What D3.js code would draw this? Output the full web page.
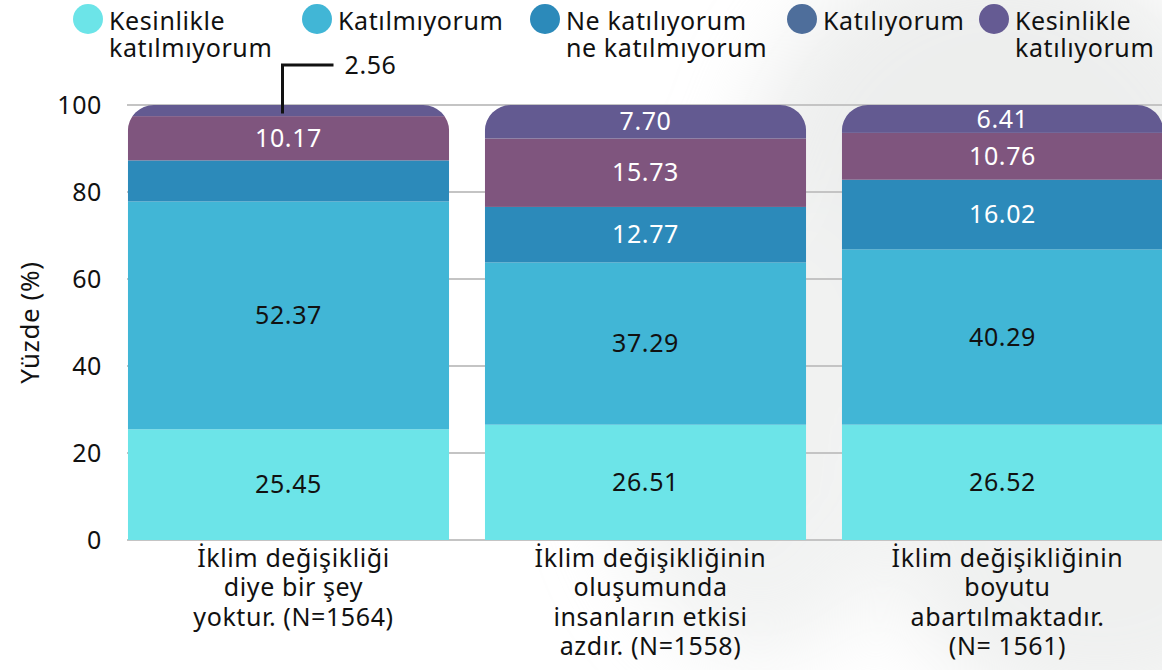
<!DOCTYPE html>
<html>
<head>
<meta charset="utf-8">
<script src="https://cdn.jsdelivr.net/npm/d3@7"></script>
<style>
  body { margin: 0; background: #fff; }
  svg text { font-family: "Noto Sans", sans-serif; letter-spacing: 0.6px; }
</style>
</head>
<body>
<div id="chart"></div>
<script>
"use strict";

/* Data */
let categories = ["q1", "q2", "q3"];
let categoryLines = [
  ["İklim değişikliği", "diye bir şey", "yoktur. (N=1564)"],
  ["İklim değişikliğinin", "oluşumunda", "insanların etkisi", "azdır. (N=1558)"],
  ["İklim değişikliğinin", "boyutu", "abartılmaktadır.", "(N= 1561)"]
];
let seriesNames = ["Kesinlikle katılmıyorum", "Katılmıyorum", "Ne katılıyorum ne katılmıyorum", "Katılıyorum", "Kesinlikle katılıyorum"];
let kesinlikleKatilmiyorum = [25.45, 26.51, 26.52];
let katilmiyorum = [52.37, 37.29, 40.29];
let neKatiliyorum = [9.45, 12.77, 16.02];
let katiliyorum = [10.17, 15.73, 10.76];
let kesinlikleKatiliyorum = [2.56, 7.70, 6.41];
let yTicks = [0, 20, 40, 60, 80, 100];

let seriesValues = [kesinlikleKatilmiyorum, katilmiyorum, neKatiliyorum, katiliyorum, kesinlikleKatiliyorum];

/* Colours: bar segments and legend dots (legend differs slightly in the original) */
let barColors = ["#6ce4e8", "#41b6d6", "#2c8aba", "#7f557e", "#635a91"];
let legendColors = ["#6ce4e8", "#41b6d6", "#2c8aba", "#4e6e9b", "#655b93"];
let labelColors = ["#111", "#111", "#fff", "#fff", "#fff"];

/* Drawing config */
let svgWidth = 1162;
let svgHeight = 670;
let fontSize = 25;

let svg = d3.select("#chart")
  .append("svg")
  .attr("width", svgWidth)
  .attr("height", svgHeight);

/* soft grey texture on the right like the original background */
let defs = svg.append("defs");
let blur = defs.append("filter").attr("id", "blur").attr("x", "-50%").attr("y", "-50%").attr("width", "200%").attr("height", "200%");
blur.append("feGaussianBlur").attr("stdDeviation", 40);
let bg = svg.append("g").attr("filter", "url(#blur)").attr("opacity", 0.5);
bg.append("ellipse").attr("cx", 1000).attr("cy", 200).attr("rx", 260).attr("ry", 260).attr("fill", "#dcdedd");
bg.append("ellipse").attr("cx", 760).attr("cy", 420).attr("rx", 160).attr("ry", 240).attr("fill", "#e4e6e5");
bg.append("ellipse").attr("cx", 1100).attr("cy", 560).attr("rx", 200).attr("ry", 160).attr("fill", "#e0e2e1");

/* Scales */
let xScale = d3.scaleBand()
  .domain(categories)
  .range([110, 1181])
  .paddingInner(0.1)
  .paddingOuter(0.05);

let yScale = d3.scaleLinear()
  .domain([0, 100])
  .range([540, 105]);

/* Gridlines */
svg.append("g")
  .selectAll("line")
  .data(yTicks)
  .enter()
  .append("line")
  .attr("x1", 127)
  .attr("x2", svgWidth)
  .attr("y1", d => yScale(d))
  .attr("y2", d => yScale(d))
  .attr("stroke", "#c4c4c4")
  .attr("stroke-width", 2);

/* Y tick labels */
svg.append("g")
  .selectAll("text")
  .data(yTicks)
  .enter()
  .append("text")
  .attr("x", 102)
  .attr("y", d => yScale(d))
  .attr("dy", "0.35em")
  .attr("text-anchor", "end")
  .attr("font-size", fontSize)
  .attr("fill", "#111")
  .text(d => String(d));

/* Y axis title */
svg.append("text")
  .attr("transform", "translate(39," + yScale(50) + ") rotate(-90)")
  .attr("text-anchor", "middle")
  .attr("font-size", 26)
  .attr("letter-spacing", "1.5px")
  .attr("fill", "#111")
  .text("Yüzde (%)");

/* Stack */
let table = categories.map(function (c, i) {
  let row = { cat: c };
  seriesNames.forEach(function (s, j) { row[s] = seriesValues[j][i]; });
  return row;
});
let stacked = d3.stack().keys(seriesNames)(table);

/* clip each bar with rounded top corners */
let radius = 26;
categories.forEach(function (c, i) {
  let x0 = xScale(c);
  let w = xScale.bandwidth();
  let top = yScale(100);
  let bottom = yScale(0);
  let p = d3.path();
  p.moveTo(x0, bottom);
  p.lineTo(x0, top + radius);
  p.arcTo(x0, top, x0 + radius, top, radius);
  p.lineTo(x0 + w - radius, top);
  p.arcTo(x0 + w, top, x0 + w, top + radius, radius);
  p.lineTo(x0 + w, bottom);
  p.closePath();
  defs.append("clipPath").attr("id", "clip" + i).append("path").attr("d", p.toString());
});

let layers = svg.append("g")
  .selectAll("g")
  .data(stacked)
  .enter()
  .append("g")
  .attr("fill", (d, j) => barColors[j]);

layers.selectAll("rect")
  .data(d => d)
  .enter()
  .append("rect")
  .attr("clip-path", (d, i) => "url(#clip" + i + ")")
  .attr("x", d => xScale(d.data.cat))
  .attr("width", xScale.bandwidth())
  .attr("y", d => yScale(d[1]))
  .attr("height", d => yScale(d[0]) - yScale(d[1]));

/* Segment labels: bar 1's middle segment has none, its top one is a callout */
let labels = svg.append("g");
stacked.forEach(function (layer, j) {
  layer.forEach(function (d, i) {
    if (i === 0 && j === 2) return;
    let cx = xScale(d.data.cat) + xScale.bandwidth() / 2;
    if (i === 0 && j === 4) {
      let yTop = yScale(d[1]) - 40;
      labels.append("path")
        .attr("d", "M" + (cx - 6) + "," + (yScale((d[0] + d[1]) / 2) + 3) +
          "V" + yTop + "H" + (cx + 45))
        .attr("fill", "none")
        .attr("stroke", "#111")
        .attr("stroke-width", 3);
      labels.append("text")
        .attr("x", cx + 56)
        .attr("y", yTop)
        .attr("dy", "0.35em")
        .attr("font-size", fontSize)
        .attr("fill", "#111")
        .text(d3.format(".2f")(d[1] - d[0]));
      return;
    }
    labels.append("text")
      .attr("x", cx)
      .attr("y", yScale((d[0] + d[1]) / 2))
      .attr("dy", "0.35em")
      .attr("text-anchor", "middle")
      .attr("font-size", fontSize)
      .attr("fill", labelColors[j])
      .text(d3.format(".2f")(d[1] - d[0]));
  });
});

/* Category labels, one text per line */
let catGroup = svg.append("g");
categories.forEach(function (c, i) {
  categoryLines[i].forEach(function (line, k) {
    catGroup.append("text")
      .attr("x", xScale(c) + xScale.bandwidth() / 2 + 5)
      .attr("y", 558 + k * 29.5)
      .attr("dy", "0.35em")
      .attr("text-anchor", "middle")
      .attr("font-size", fontSize)
      .attr("fill", "#111")
      .text(line);
  });
});

/* Legend */
let legendDotX = [88, 317, 545, 802, 994];
let legendLines = [
  ["Kesinlikle", "katılmıyorum"],
  ["Katılmıyorum"],
  ["Ne katılıyorum", "ne katılmıyorum"],
  ["Katılıyorum"],
  ["Kesinlikle", "katılıyorum"]
];

let legend = svg.append("g");
seriesNames.forEach(function (s, j) {
  legend.append("circle")
    .attr("cx", legendDotX[j])
    .attr("cy", 19)
    .attr("r", 15)
    .attr("fill", legendColors[j]);
  legendLines[j].forEach(function (line, k) {
    legend.append("text")
      .attr("x", legendDotX[j] + 21)
      .attr("y", 21 + k * 27)
      .attr("dy", "0.35em")
      .attr("font-size", fontSize)
      .attr("fill", "#111")
      .text(line);
  });
});
</script>
</body>
</html>
